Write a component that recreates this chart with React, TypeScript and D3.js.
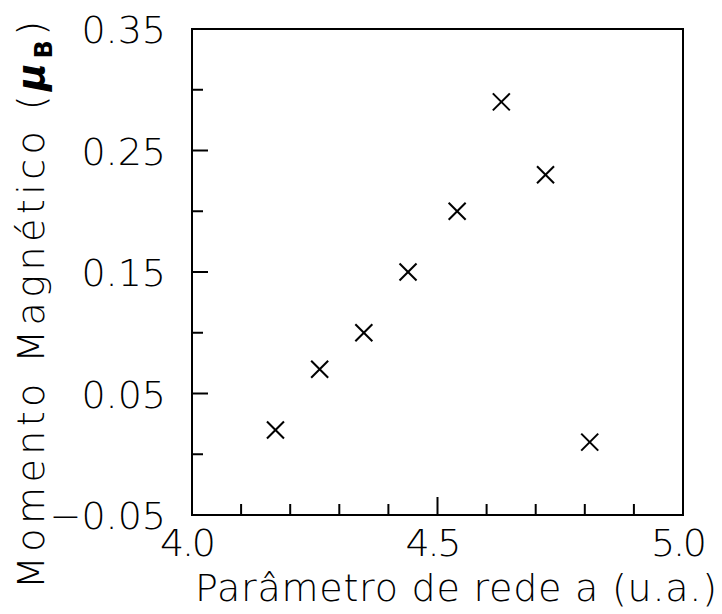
import React from "react";
import * as d3 from "d3";

// Lattice parameter (u.a.) and magnetic moment (μB) per calculation
const latticeParam = [4.17, 4.26, 4.35, 4.44, 4.54, 4.63, 4.72, 4.81];
const magneticMoment = [0.02, 0.07, 0.10, 0.15, 0.20, 0.29, 0.23, 0.01];

const xMajorTicks = [4.0, 4.5, 5.0];
const xMinorTicks = [4.1, 4.2, 4.3, 4.4, 4.6, 4.7, 4.8, 4.9];
const yMajorTicks = [-0.05, 0.05, 0.15, 0.25, 0.35];
const yMinorTicks = [0.0, 0.1, 0.2, 0.3];

const W = 722;
const H = 614;
const M = { left: 192, right: 683, top: 29, bottom: 515 };

const FONT = "'DejaVu Sans', 'Liberation Sans', sans-serif";

export default function App() {
  const x = d3.scaleLinear().domain([4.0, 5.0]).range([M.left, M.right]);
  const y = d3.scaleLinear().domain([-0.05, 0.35]).range([M.bottom, M.top]);

  const fmtX = d3.format(".1f");
  const fmtY = (v: number) => d3.format(".2f")(v).replace("-", "\u2212");

  const points = latticeParam.map((a, i) => ({ a, m: magneticMoment[i] }));
  const cs = 8.5;

  return (
    <svg
      width={W}
      height={H}
      viewBox={`0 0 ${W} ${H}`}
      style={{ position: "absolute", left: 0, top: 0, background: "#fff" }}
    >
      <rect x={0} y={0} width={W} height={H} fill="#fff" />

      {/* frame */}
      <rect
        x={M.left}
        y={M.top}
        width={M.right - M.left}
        height={M.bottom - M.top}
        fill="none"
        stroke="#000"
        strokeWidth={2}
      />

      {/* x ticks */}
      {xMinorTicks.map((t) => (
        <line key={`xm${t}`} x1={x(t)} x2={x(t)} y1={M.bottom} y2={M.bottom - 11} stroke="#000" strokeWidth={2} />
      ))}
      {xMajorTicks.map((t) => (
        <line key={`xM${t}`} x1={x(t)} x2={x(t)} y1={M.bottom} y2={M.bottom - 18} stroke="#000" strokeWidth={2} />
      ))}

      {/* y ticks */}
      {yMinorTicks.map((t) => (
        <line key={`ym${t}`} x1={M.left} x2={M.left + 11} y1={y(t)} y2={y(t)} stroke="#000" strokeWidth={2} />
      ))}
      {yMajorTicks.map((t) => (
        <line key={`yM${t}`} x1={M.left} x2={M.left + 16} y1={y(t)} y2={y(t)} stroke="#000" strokeWidth={2} />
      ))}

      {/* x tick labels */}
      {xMajorTicks.map((t) => (
        <text
          key={`xl${t}`}
          x={x(t) - 4}
          y={556}
          textAnchor="middle"
          fontFamily={FONT}
          fontWeight={200}
          fontSize={38}
          fill="#000"
          textLength={56}
          lengthAdjust="spacing"
        >
          {fmtX(t)}
        </text>
      ))}

      {/* y tick labels */}
      {yMajorTicks.map((t) => (
        <text
          key={`yl${t}`}
          x={166}
          y={y(t) + 14}
          textAnchor="end"
          fontFamily={FONT}
          fontWeight={200}
          fontSize={38}
          fill="#000"
        >
          {fmtY(t)}
        </text>
      ))}

      {/* axis titles */}
      <text
        x={456}
        y={601}
        textAnchor="middle"
        fontFamily={FONT}
        fontWeight={200}
        fontSize={38}
        fill="#000"
        textLength={522}
        lengthAdjust="spacing"
      >
        Parâmetro de rede a (u.a.)
      </text>
      <text
        transform={`translate(44, 305) rotate(-90)`}
        textAnchor="middle"
        fontFamily={FONT}
        fontWeight={200}
        fontSize={38}
        fill="#000"
        textLength={568}
        lengthAdjust="spacing"
      >
        Momento Magnético (
        <tspan fontStyle="italic" fontWeight={700}>μ</tspan>
        <tspan fontWeight={700} fontSize={24} dy={8}>B</tspan>
        <tspan dy={-8}>)</tspan>
      </text>

      {/* data markers */}
      {points.map((p, i) => {
        const cx = x(p.a);
        const cy = y(p.m);
        return (
          <g key={`p${i}`} stroke="#000" strokeWidth={2}>
            <line x1={cx - cs} y1={cy - cs} x2={cx + cs} y2={cy + cs} />
            <line x1={cx - cs} y1={cy + cs} x2={cx + cs} y2={cy - cs} />
          </g>
        );
      })}
    </svg>
  );
}
